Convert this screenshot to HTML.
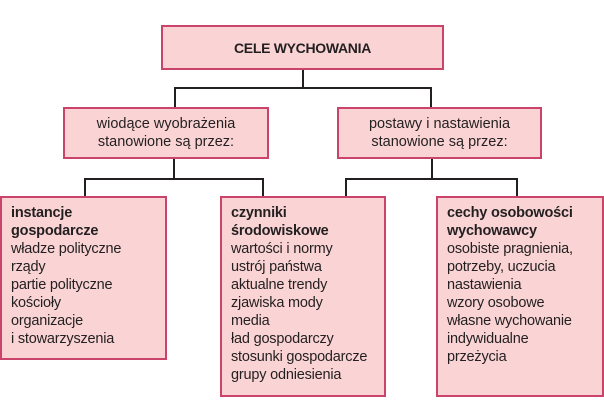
<!DOCTYPE html>
<html><head><meta charset="utf-8"><style>
body{margin:0;width:604px;height:419px;background:#fff;position:relative;overflow:hidden;font-family:"Liberation Sans",sans-serif;color:#231f20}
.b{position:absolute;box-sizing:border-box;background:#fad4d4;border:2px solid #c9436a}
.c{display:flex;align-items:center;justify-content:center;text-align:center;font-size:14.5px;line-height:18px}
.l{position:absolute;background:#231f20}
.t{font-size:14.5px;line-height:18px;padding:6px 0 0 9px;white-space:nowrap;letter-spacing:-0.2px}
</style></head><body>
<div class="b c" style="left:161px;top:25px;width:283px;height:45px;font-weight:bold;font-size:14px;letter-spacing:-0.3px">CELE WYCHOWANIA</div>
<div class="l" style="left:302px;top:70px;width:2px;height:19px"></div>
<div class="l" style="left:175px;top:87px;width:257px;height:2px"></div>
<div class="l" style="left:174px;top:87px;width:2px;height:20px"></div>
<div class="l" style="left:430px;top:87px;width:2px;height:20px"></div>
<div class="b c" style="left:63px;top:107px;width:206px;height:52px">wiodące wyobrażenia<br>stanowione są przez:</div>
<div class="b c" style="left:337px;top:107px;width:205px;height:52px">postawy i nastawienia<br>stanowione są przez:</div>
<div class="l" style="left:173px;top:159px;width:2px;height:21px"></div>
<div class="l" style="left:84px;top:178px;width:180px;height:2px"></div>
<div class="l" style="left:84px;top:178px;width:2px;height:18px"></div>
<div class="l" style="left:262px;top:178px;width:2px;height:18px"></div>
<div class="l" style="left:431px;top:159px;width:2px;height:21px"></div>
<div class="l" style="left:345px;top:178px;width:173px;height:2px"></div>
<div class="l" style="left:345px;top:178px;width:2px;height:18px"></div>
<div class="l" style="left:516px;top:178px;width:2px;height:18px"></div>
<div class="b t" style="left:0;top:196px;width:167px;height:164px"><b>instancje<br>gospodarcze</b><br>władze polityczne<br>rządy<br>partie polityczne<br>kościoły<br>organizacje<br>i stowarzyszenia</div>
<div class="b t" style="left:220px;top:196px;width:166px;height:201px"><b>czynniki<br>środowiskowe</b><br>wartości i normy<br>ustrój państwa<br>aktualne trendy<br>zjawiska mody<br>media<br>ład gospodarczy<br>stosunki gospodarcze<br>grupy odniesienia</div>
<div class="b t" style="left:436px;top:196px;width:168px;height:201px"><b>cechy osobowości<br>wychowawcy</b><br>osobiste pragnienia,<br>potrzeby, uczucia<br>nastawienia<br>wzory osobowe<br>własne wychowanie<br>indywidualne<br>przeżycia</div>
</body></html>
